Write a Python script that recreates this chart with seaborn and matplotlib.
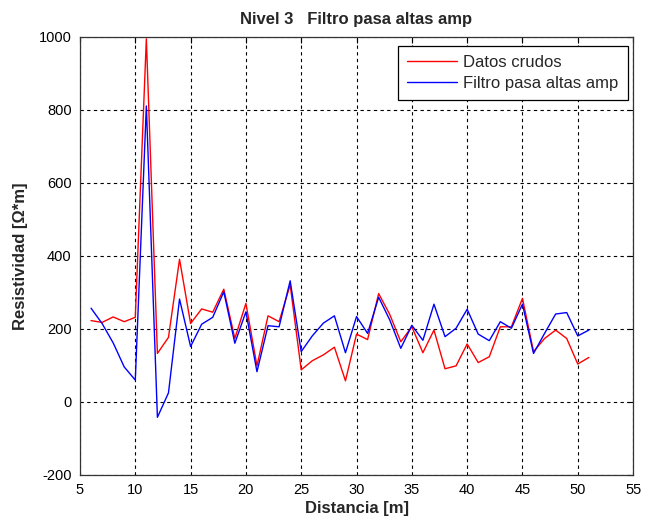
import matplotlib
matplotlib.use("Agg")
import matplotlib.pyplot as plt
import pandas as pd
import seaborn as sns

# distance along the line [m]
distancia = list(range(6, 52))

# raw resistivity
datos_crudos = [
    223, 218, 233, 220, 232, 995, 133, 177, 391, 215,
    255, 246, 309, 174, 270, 99, 236, 220, 321, 88,
    113, 129, 150, 58, 186, 171, 297, 240, 165, 206,
    135, 197, 91, 99, 159, 108, 124, 206, 206, 284,
    138, 174, 197, 174, 104, 122,
]

# high-pass filtered resistivity
filtro_pasa_altas = [
    257, 215, 162, 96, 60, 811, -42, 25, 282, 152,
    213, 232, 302, 161, 247, 83, 209, 206, 332, 138,
    181, 216, 236, 135, 234, 188, 287, 225, 147, 210,
    169, 268, 179, 202, 254, 186, 168, 220, 202, 268,
    133, 188, 241, 245, 181, 197,
]

serie_nombres = ["Datos crudos", "Filtro pasa altas amp"]

sns.set_style("white")
plt.rcParams["font.family"] = ["Liberation Sans", "DejaVu Sans"]
plt.rcParams["axes.unicode_minus"] = False

df = pd.DataFrame({
    "Distancia": distancia * 2,
    "Resistividad": datos_crudos + filtro_pasa_altas,
    "Serie": [serie_nombres[0]] * len(distancia) + [serie_nombres[1]] * len(distancia),
})

fig = plt.figure(figsize=(6.46, 5.27), dpi=100)
ax = fig.add_axes([0.1238, 0.0987, 0.8562, 0.8311])

sns.lineplot(
    data=df, x="Distancia", y="Resistividad", hue="Serie",
    palette=["#ff0000", "#0000ff"], linewidth=1.0, ax=ax, legend=True,
)

ax.set_xlim(5, 55)
ax.set_ylim(-200, 1000)
ax.set_xticks(range(5, 56, 5))
ax.set_yticks(range(-200, 1001, 200))

ax.grid(True, color="black", linestyle=(0, (3, 3)), linewidth=0.8)
ax.tick_params(direction="in", length=4, width=0.8, top=True, right=True,
               labelsize=10.5, colors="black", pad=6)
for side in ax.spines.values():
    side.set_color("#333333")
    side.set_linewidth(0.9)

ax.set_title("Nivel 3   Filtro pasa altas amp", fontsize=12, fontweight="bold", pad=9)
ax.set_xlabel("Distancia [m]", fontsize=12, fontweight="bold", labelpad=3)
ax.set_ylabel("Resistividad [\u03a9*m]", fontsize=12, fontweight="bold", labelpad=8)

leg = ax.legend(loc="upper right", bbox_to_anchor=(0.99, 0.98), borderaxespad=0,
                fontsize=12, frameon=True, fancybox=False,
                edgecolor="black", framealpha=1,
                handlelength=3.0, handletextpad=0.35, borderpad=0.55,
                labelspacing=0.35)
leg.get_frame().set_linewidth(0.9)
leg.set_title(None)

fig.savefig("out.png", dpi=100, facecolor="white")
